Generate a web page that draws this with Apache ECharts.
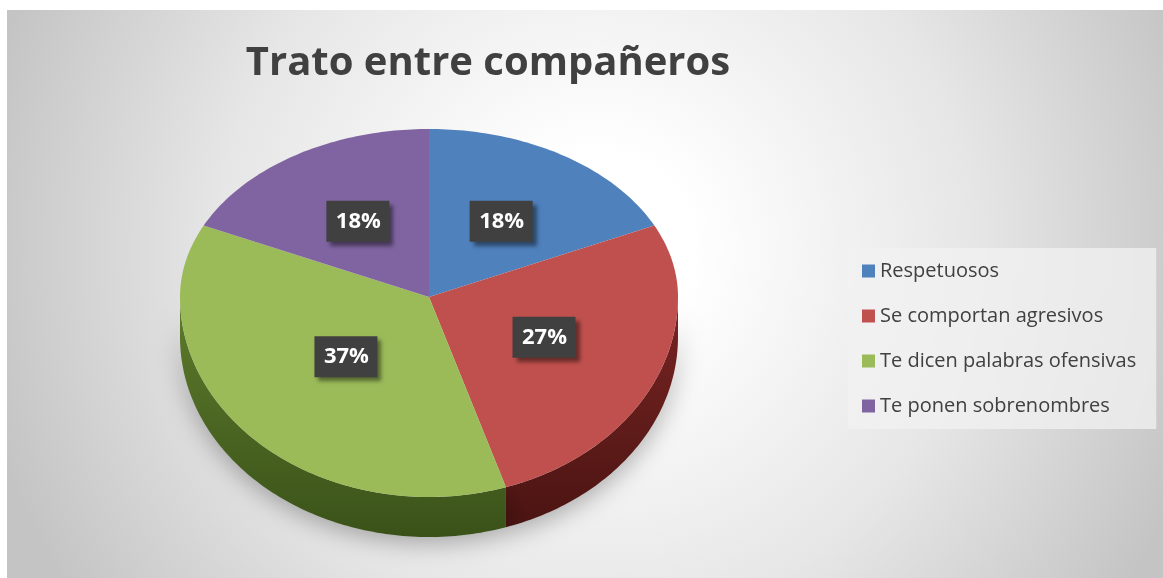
<!DOCTYPE html>
<html><head><meta charset="utf-8">
<script src="https://cdn.jsdelivr.net/npm/echarts@6/dist/echarts.min.js"></script>
<style>html,body{margin:0;padding:0;background:#fff;width:1163px;height:578px;overflow:hidden}
#c{position:absolute;left:7px;top:10px;width:1156px;height:568px}</style></head>
<body><div id="c"></div>
<script>
const categories = ['Respetuosos', 'Se comportan agresivos', 'Te dicen palabras ofensivas', 'Te ponen sobrenombres'];
const values = [18, 27, 37, 18];
const colors = ['#4f81bd', '#c0504d', '#9bbb59', '#8064a2'];
const sideColors = [['#2c4a70', '#1e3450'], ['#7a2523', '#4a1412'], ['#5e7c2c', '#3a5219'], ['#4b3a62', '#33274a']];
const chartTitle = 'Trato entre compañeros';

const total = values.reduce((a, b) => a + b, 0);
const starts = []; let acc = 0; values.forEach(v => { starts.push(acc); acc += v; });

const G = { cx: 422, cy: 287, rx: 249, ryTop: 168, ryBot: 200, depth: 40 };
function pt(theta, k, dy) {
  const s = Math.sin(theta), c = Math.cos(theta);
  const ry = c > 0 ? G.ryTop : G.ryBot;
  return [G.cx + k * G.rx * s, G.cy - k * ry * c + (dy || 0)];
}
function arcPts(a0, a1, dy) {
  const n = Math.max(2, Math.ceil((a1 - a0) / (Math.PI / 180)));
  const out = [];
  for (let i = 0; i <= n; i++) out.push(pt(a0 + (a1 - a0) * i / n, 1, dy));
  return out;
}
function makeRender(idx) {
  return function (params, api) {
    const v = api.value(0);
    const a0 = starts[idx] / total * 2 * Math.PI, a1 = (starts[idx] + v) / total * 2 * Math.PI;
    const children = [];
    const s0 = Math.max(a0, Math.PI / 2), s1 = Math.min(a1, Math.PI * 1.5);
    if (s1 > s0) {
      const top = arcPts(s0, s1, 0), bot = arcPts(s0, s1, G.depth).reverse();
      children.push({ type: 'polygon', z2: 1, shape: { points: top.concat(bot) },
        style: { fill: { type: 'linear', x: 0, y: 0, x2: 0, y2: 1, colorStops: [{ offset: 0, color: sideColors[idx][0] }, { offset: 1, color: sideColors[idx][1] }] },
          shadowBlur: 25, shadowColor: 'rgba(0,0,0,0.3)', shadowOffsetY: 6 } });
    }
    const pts = [pt(0, 0, 0)].concat(arcPts(a0, a1, 0));
    children.push({ type: 'polygon', z2: 10, shape: { points: pts }, style: { fill: api.visual('color') } });
    const half = (a1 - a0) / 2, mid = a0 + half;
    const d = 0.85 * (2 / 3) * Math.sin(half) / half;
    const lp = pt(mid, d, 0);
    children.push({ type: 'rect', z2: 20, shape: { x: lp[0] - 31, y: lp[1] - 20, width: 63, height: 41 },
      style: { fill: '#404040', shadowBlur: 4, shadowColor: 'rgba(0,0,0,0.45)', shadowOffsetX: 4, shadowOffsetY: 4 } });
    children.push({ type: 'text', z2: 21, style: { text: Math.round(v / total * 100) + '%', x: lp[0] + 1, y: lp[1] + 1,
      align: 'center', verticalAlign: 'middle', fill: '#ffffff', font: 'bold 22px "Open Sans"' } });
    return { type: 'group', children };
  };
}

const titleFont = 'bold 40px "Open Sans"';
const cv = document.createElement('canvas').getContext('2d');
cv.font = titleFont;
const titleW = cv.measureText(chartTitle).width;

const chart = echarts.init(document.getElementById('c'), null, { renderer: 'canvas' });
chart.setOption({
  animation: false,
  color: colors,
  backgroundColor: { type: 'radial', x: 0.51, y: 0.42, r: 1.11, colorStops: [
    { offset: 0, color: '#ffffff' }, { offset: 0.15, color: '#ffffff' }, { offset: 0.6, color: '#e6e6e6' }, { offset: 1, color: '#c4c4c4' }] },
  title: { text: chartTitle, left: 481 - titleW / 2 - 5, top: 29,
    textStyle: { fontFamily: 'Open Sans', fontWeight: 'bold', fontSize: 40, color: '#404040' } },
  legend: { orient: 'vertical', left: 841, top: 238, itemWidth: 13, itemHeight: 13, itemGap: 25, icon: 'rect',
    backgroundColor: 'rgba(242,242,242,0.75)', padding: [13, 20, 13, 14],
    textStyle: { fontFamily: 'Open Sans', fontSize: 20, color: '#404040' }, data: categories },
  series: categories.map((name, i) => ({
    type: 'custom', name, coordinateSystem: 'none', renderItem: makeRender(i),
    data: [[values[i]]], itemStyle: { color: colors[i] }
  }))
});
</script></body></html>
